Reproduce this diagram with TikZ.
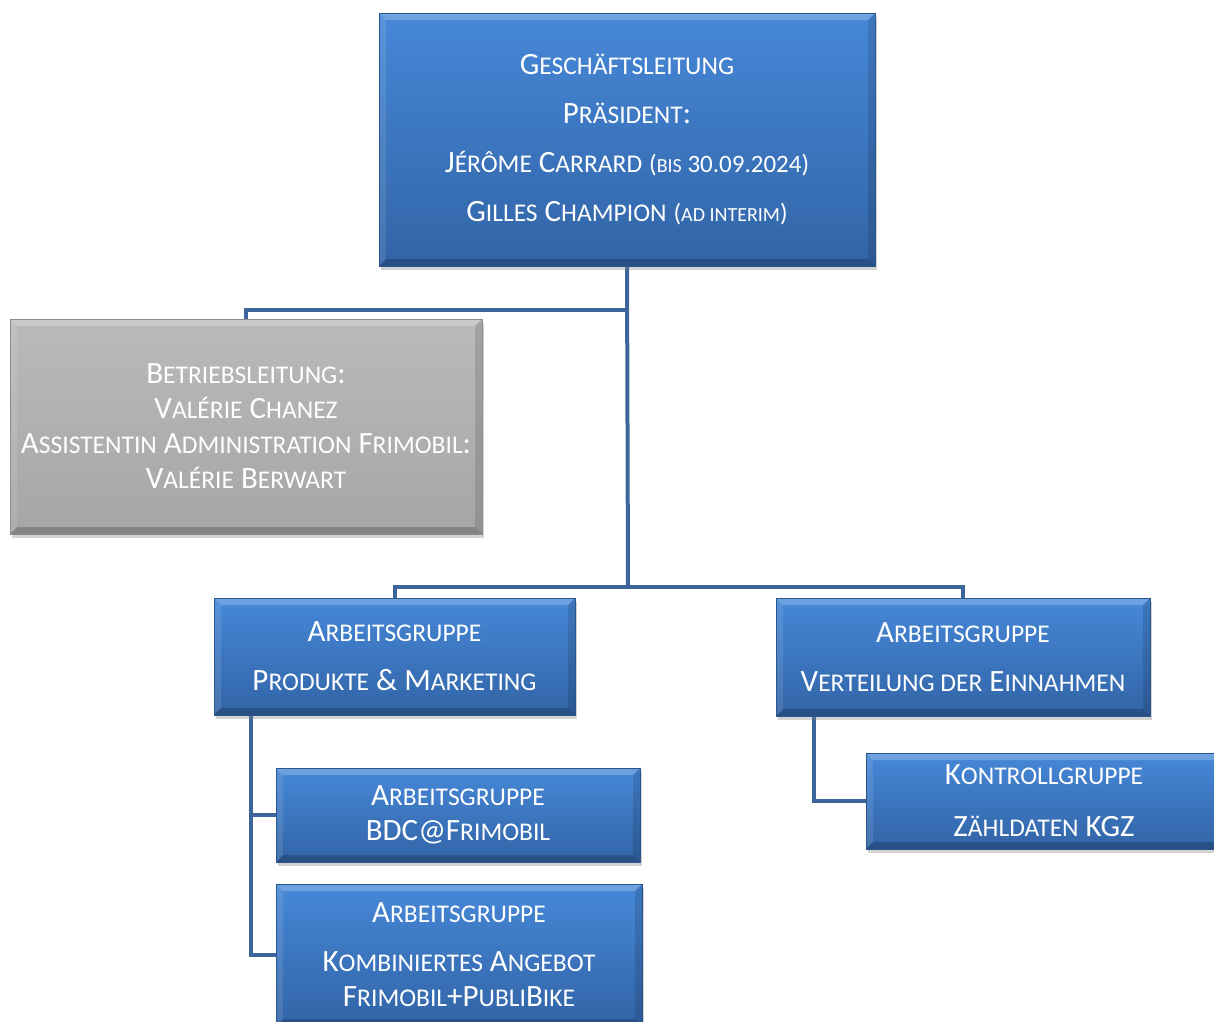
\documentclass[tikz,border=0pt]{standalone}
\usepackage{fontspec}
\setmainfont{Carlito}
\usetikzlibrary{shadows,backgrounds}
\definecolor{boxtop}{RGB}{70,136,216}
\definecolor{boxbot}{RGB}{50,100,166}
\definecolor{greytop}{RGB}{186,186,186}
\definecolor{greybot}{RGB}{166,166,166}
\definecolor{linecol}{RGB}{62,101,155}
% small capitals by hand
\newcommand{\sk}[1]{{\fontsize{25.5}{35}\selectfont #1}}
\newcommand{\pk}[1]{{\fontsize{25}{35}\selectfont #1}}
\newcommand{\psk}[1]{{\fontsize{20}{35}\selectfont #1}}

\tikzset{
  bevel/.style={path picture={
    \coordinate (bvnw) at (path picture bounding box.north west);
    \coordinate (bvne) at (path picture bounding box.north east);
    \coordinate (bvsw) at (path picture bounding box.south west);
    \coordinate (bvse) at (path picture bounding box.south east);
    \fill[white,opacity=.22] (bvnw) -- (bvne) -- ([shift={(-7pt,-7pt)}]bvne) -- ([shift={(7pt,-7pt)}]bvnw) -- cycle;
    \fill[white,opacity=.10] (bvnw) -- ([shift={(7pt,-7pt)}]bvnw) -- ([shift={(7pt,7pt)}]bvsw) -- (bvsw) -- cycle;
    \fill[black,opacity=.12] (bvne) -- ([shift={(-7pt,-7pt)}]bvne) -- ([shift={(-7pt,7pt)}]bvse) -- (bvse) -- cycle;
    \fill[black,opacity=.20] (bvsw) -- (bvse) -- ([shift={(-7pt,7pt)}]bvse) -- ([shift={(7pt,7pt)}]bvsw) -- cycle;
  }},
  orgbox/.style={rectangle, top color=boxtop, bottom color=boxbot, draw=boxbot!85!black,
    line width=0.6pt, text=white, align=center, inner sep=0pt,
    font=\fontsize{31}{35}\selectfont,
    drop shadow={shadow xshift=2pt, shadow yshift=-4pt, opacity=.35}, bevel},
  greybox/.style={orgbox, top color=greytop, bottom color=greybot, draw=greybot!85!black},
  conn/.style={draw=linecol, line width=4pt}
}

\begin{document}
\begin{tikzpicture}[x=1pt,y=-1pt]
\useasboundingbox (0,0) rectangle (1214,1021);

% boxes
\node[orgbox, minimum width=496pt, minimum height=253pt] (gl) at (627,139.5)
  {G\sk{ESCHÄFTSLEITUNG}\\[14pt] P\sk{RÄSIDENT}:\\[14pt]
   J\sk{ÉRÔME} C\sk{ARRARD} \pk{(\psk{BIS} 30.09.2024)}\\[14pt]
   G\sk{ILLES} C\sk{HAMPION} \pk{(\psk{AD INTERIM})}};
\node[greybox, minimum width=472pt, minimum height=215pt] (bl) at (246,426.5)
  {B\sk{ETRIEBSLEITUNG}:\\ V\sk{ALÉRIE} C\sk{HANEZ}\\
   A\sk{SSISTENTIN} A\sk{DMINISTRATION} F\sk{RIMOBIL}:\\ V\sk{ALÉRIE} B\sk{ERWART}};
\node[orgbox, minimum width=361pt, minimum height=117pt] (agpm) at (394.5,656.5)
  {A\sk{RBEITSGRUPPE}\\[14pt] P\sk{RODUKTE} \& M\sk{ARKETING}};
\node[orgbox, minimum width=374pt, minimum height=118pt] (agve) at (963,657)
  {A\sk{RBEITSGRUPPE}\\[14pt] V\sk{ERTEILUNG DER} E\sk{INNAHMEN}};
\node[orgbox, minimum width=364pt, minimum height=94pt] (agbdc) at (458,815)
  {A\sk{RBEITSGRUPPE}\\ BDC@F\sk{RIMOBIL}};
\node[orgbox, minimum width=366pt, minimum height=142pt] (agka) at (459,955)
  {A\sk{RBEITSGRUPPE}\\[14pt] K\sk{OMBINIERTES} A\sk{NGEBOT}\\ F\sk{RIMOBIL}+P\sk{UBLI}B\sk{IKE}};
\node[orgbox, minimum width=356pt, minimum height=96pt] (kgz) at (1044,801)
  {K\sk{ONTROLLGRUPPE}\\[17pt] Z\sk{ÄHLDATEN} KGZ};

\coordinate (bus0) at (628,310);
\coordinate (bus1) at (628,587);
\coordinate (pmstem) at (251,715);
\coordinate (vestem) at (814,716);

% connectors
\begin{scope}[on background layer]
\draw[conn] (gl.south) -- (bus1);
\draw[conn] (bus0) -| (bl.north);
\draw[conn] (agpm.north) |- (bus1) -| (agve.north);
\draw[conn] (pmstem) |- (agka.west);
\draw[conn] (pmstem |- agbdc.west) -- (agbdc.west);
\draw[conn] (vestem) |- (kgz.west);
\end{scope}
\end{tikzpicture}
\end{document}
